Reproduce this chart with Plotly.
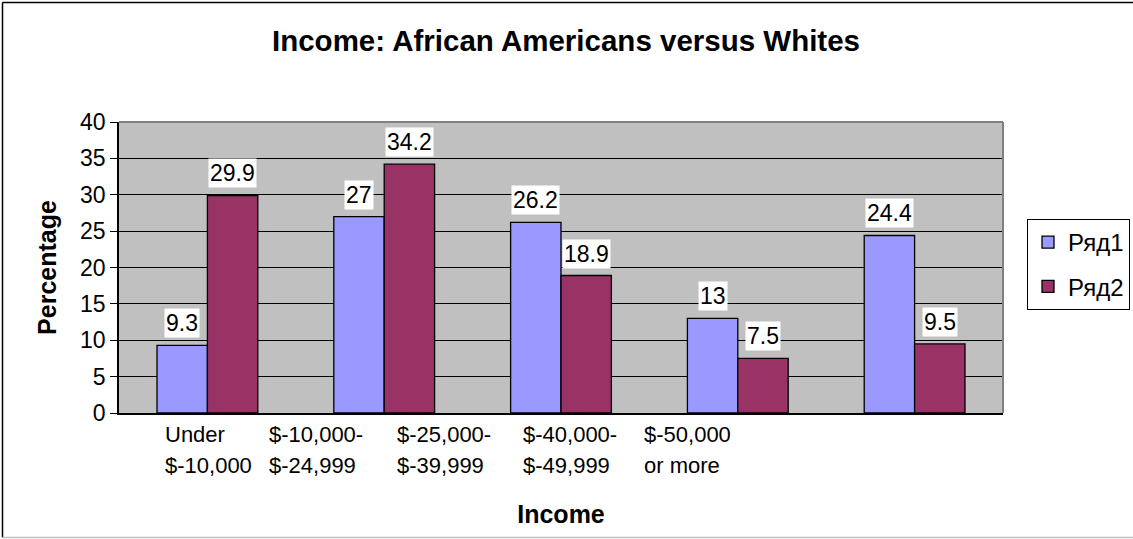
import plotly.graph_objects as go

# ---- data ----
categories = ["Under $-10,000", "$-10,000-$-24,999", "$-25,000-$-39,999",
              "$-40,000-$-49,999", "$-50,000 or more"]
label_line1 = ["Under", "$-10,000-", "$-25,000-", "$-40,000-", "$-50,000"]
label_line2 = ["$-10,000", "$-24,999", "$-39,999", "$-49,999", "or more"]
series1_name = "Ряд1"
series2_name = "Ряд2"
series1 = [9.3, 27, 26.2, 13, 24.4]
series2 = [29.9, 34.2, 18.9, 7.5, 9.5]
y_ticks = [0, 5, 10, 15, 20, 25, 30, 35, 40]

# ---- layout constants ----
W, H = 1133, 539
ML, MR, MT, MB = 119, 130, 122, 126
PW = W - ML - MR
PH = H - MT - MB
BARGAP = 0.43
FONT = "Liberation Sans, Arial, sans-serif"
BLUE = "#9999FF"
RED = "#993366"


def px_to_paper_x(px):
    return (px - ML) / PW


def px_to_paper_y(py):
    return (H - MB - py) / PH


fig = go.Figure()
fig.add_trace(go.Bar(x=categories, y=series1, name=series1_name, legendgroup="a",
                     marker=dict(color=BLUE, line=dict(color="black", width=1.3))))
fig.add_trace(go.Bar(x=categories, y=series2, name=series2_name, legendgroup="b",
                     marker=dict(color=RED, line=dict(color="black", width=1.3))))

# data labels with white boxes
bar_w = PW / len(categories) * (1 - BARGAP) / 2
for vals, sh in ((series1, -bar_w / 2), (series2, bar_w / 2)):
    for c, v in zip(categories, vals):
        fig.add_annotation(x=c, y=v, xref="x", yref="y", text=f"{v:g}",
                           showarrow=False, yanchor="bottom", yshift=7, xshift=sh,
                           bgcolor="white", borderpad=1,
                           font=dict(family=FONT, size=23, color="black"))

# category labels (Excel-style staggered left aligned text)
label_left_px = [163, 267, 395, 521, 642]
for px, l1, l2 in zip(label_left_px, label_line1, label_line2):
    xp = px_to_paper_x(px)
    fig.add_annotation(x=xp, y=px_to_paper_y(434), xref="paper", yref="paper",
                       text=l1, showarrow=False, xanchor="left", yanchor="middle",
                       font=dict(family=FONT, size=22, color="black"))
    fig.add_annotation(x=xp, y=px_to_paper_y(465), xref="paper", yref="paper",
                       text=l2, showarrow=False, xanchor="left", yanchor="middle",
                       font=dict(family=FONT, size=22, color="black"))

# outer chart frame: top & left black, bottom gray
fig.add_shape(type="line", xref="paper", yref="paper",
              x0=px_to_paper_x(2.5), x1=px_to_paper_x(1133),
              y0=px_to_paper_y(2.5), y1=px_to_paper_y(2.5),
              line=dict(color="black", width=1.5))
fig.add_shape(type="line", xref="paper", yref="paper",
              x0=px_to_paper_x(2.5), x1=px_to_paper_x(2.5),
              y0=px_to_paper_y(2.5), y1=px_to_paper_y(537.5),
              line=dict(color="black", width=1.5))
fig.add_shape(type="line", xref="paper", yref="paper",
              x0=px_to_paper_x(2.5), x1=px_to_paper_x(1133),
              y0=px_to_paper_y(537.5), y1=px_to_paper_y(537.5),
              line=dict(color="#C0C0C0", width=1.5))
# plot area top/right border (gray)
fig.add_shape(type="line", xref="paper", yref="paper", x0=0, x1=1, y0=1, y1=1,
              line=dict(color="#808080", width=2))
fig.add_shape(type="line", xref="paper", yref="paper", x0=1, x1=1, y0=0, y1=1,
              line=dict(color="#808080", width=2))

fig.update_layout(
    width=W, height=H,
    margin=dict(l=ML, r=MR, t=MT, b=MB, pad=0, autoexpand=False),
    paper_bgcolor="white",
    plot_bgcolor="#C0C0C0",
    barmode="group",
    bargap=BARGAP,
    bargroupgap=0,
    font=dict(family=FONT, size=22, color="black"),
    title=dict(text="<b>Income: African Americans versus Whites</b>",
               x=566 / W, xanchor="center",
               y=1 - 41 / H, yanchor="middle", yref="container",
               font=dict(family=FONT, size=29.5, color="black")),
    legend=dict(x=px_to_paper_x(1027), y=px_to_paper_y(219), xanchor="left", yanchor="top",
                bgcolor="white", bordercolor="black", borderwidth=1,
                font=dict(family=FONT, size=24, color="black"),
                traceorder="grouped", tracegroupgap=10),
    xaxis=dict(showticklabels=False, showline=True, linecolor="black", linewidth=1.5,
               ticks="", showgrid=False, zeroline=False,
               title=dict(text="<b>Income</b>", standoff=92,
                          font=dict(family=FONT, size=25, color="black"))),
    yaxis=dict(range=[0, 40], tickvals=y_ticks, ticks="outside", ticklen=7,
               tickcolor="black", showline=True, linecolor="black", linewidth=1.5,
               showgrid=True, gridcolor="black", gridwidth=1, zeroline=False,
               tickfont=dict(family=FONT, size=23, color="black"),
               title=dict(text="<b>Percentage</b>", standoff=16,
                          font=dict(family=FONT, size=25, color="black"))),
)

fig.write_html("out.html", config={"displayModeBar": False},
               post_script="document.body.style.margin='0px';")
